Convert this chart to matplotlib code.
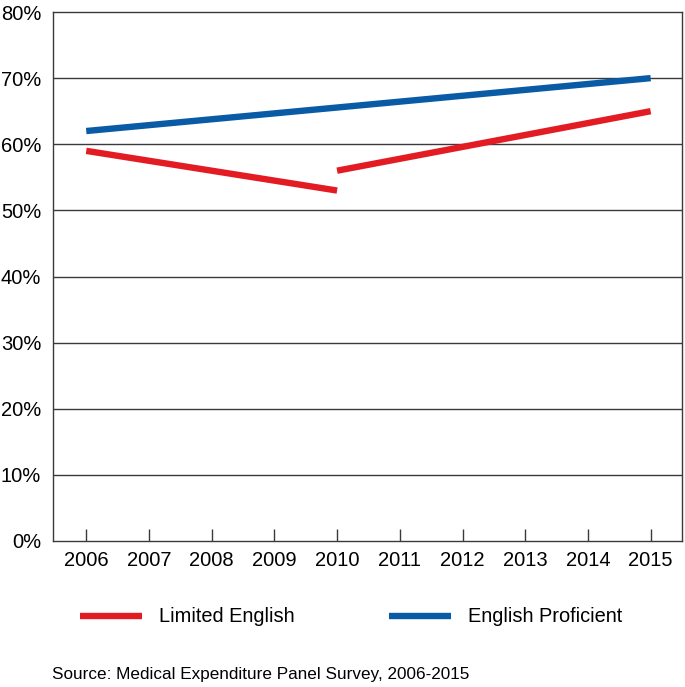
import numpy as np
import matplotlib
matplotlib.use("Agg")
import matplotlib.pyplot as plt

plt.rcParams['font.family'] = ['Liberation Sans', 'DejaVu Sans']

# data
years = [2006, 2007, 2008, 2009, 2010, 2011, 2012, 2013, 2014, 2015]
limited_years_a = [2006, 2010]
limited_vals_a = [59, 53]
limited_years_b = [2010, 2015]
limited_vals_b = [56, 65]
proficient_years = [2006, 2015]
proficient_vals = [62, 70]
y_ticks = [0, 10, 20, 30, 40, 50, 60, 70, 80]

red = '#E31B23'
blue = '#0A5BA5'
grid_col = '#3a3a3a'

fig = plt.figure(figsize=(6.85, 6.87), dpi=100)
ax = fig.add_axes([53/685, 146/687, 629/685, 529/687])

for y in y_ticks[1:-1]:
    ax.axhline(y, color=grid_col, lw=1.0, zorder=1)

ax.plot(limited_years_a, limited_vals_a, color=red, lw=4.6,
        solid_capstyle='butt', zorder=3, label='Limited English')
ax.plot(limited_years_b, limited_vals_b, color=red, lw=4.6,
        solid_capstyle='butt', zorder=3)
ax.plot(proficient_years, proficient_vals, color=blue, lw=4.6,
        solid_capstyle='butt', zorder=3, label='English Proficient')

ax.set_xlim(2005.47, 2015.5)
ax.set_ylim(0, 80)
ax.set_xticks(years)
ax.set_xticklabels([str(y) for y in years])
ax.set_yticks(y_ticks)
ax.set_yticklabels([f'{y}%' for y in y_ticks])

ax.tick_params(axis='x', direction='in', length=9, width=1.0,
               color=grid_col, labelsize=14.5, pad=7)
ax.tick_params(axis='y', length=0, labelsize=14.5, pad=8.5)
for s in ax.spines.values():
    s.set_color(grid_col)
    s.set_linewidth(1.0)

fig.legend(loc='center left', bbox_to_anchor=(80/685, 1 - 617/687),
           ncol=2, frameon=False, fontsize=14.4, handlelength=3.1,
           handletextpad=0.85, columnspacing=4.7, borderpad=0,
           borderaxespad=0)

fig.text(52/685, 1 - 675/687, 'Source: Medical Expenditure Panel Survey, 2006-2015',
         fontsize=12.3, va='center', ha='left')

fig.savefig('out.png', dpi=100)
